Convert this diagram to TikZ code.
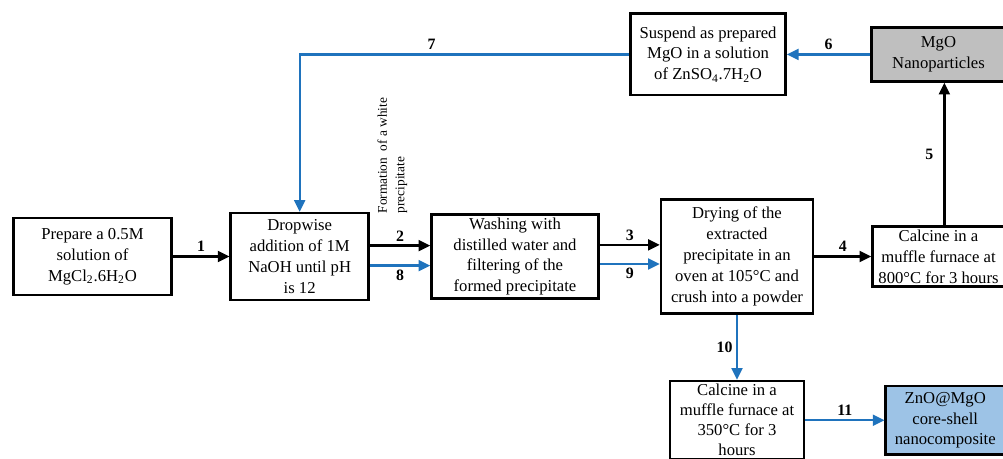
\documentclass[tikz,border=0pt]{standalone}
\usepackage{fontspec}
\setmainfont{Liberation Serif}
\usetikzlibrary{positioning, arrows.meta}
\definecolor{flowblue}{HTML}{1F73BD}
\definecolor{mgofill}{HTML}{BFBFBF}
\definecolor{znofill}{HTML}{9DC3E6}

\begin{document}
\begin{tikzpicture}[
    >={Triangle[length=7pt,width=6.5pt]},
    node distance=35pt,
    box/.style={draw, line width=1.5pt, inner xsep=1pt, inner ysep=1pt, align=center,
                font=\fontsize{10}{12.5}\selectfont},
    mgo/.style={box, fill=mgofill},
    zno/.style={box, fill=znofill},
    num/.style={font=\fontsize{9.5}{11}\selectfont\bfseries, text=black, inner sep=2pt},
    note/.style={font=\fontsize{8}{10.5}\selectfont, align=left, rotate=90, inner sep=0pt},
    flow/.style={->, line width=1.4pt},
    blueflow/.style={flow, flowblue},
]
\useasboundingbox (-55.5pt,-121.5pt) rectangle (546.3pt,153.9pt);

\node[box, minimum width=95pt, minimum height=46pt] (prep) {Prepare a 0.5M\\ solution of\\ MgCl\textsubscript{2}.6H\textsubscript{2}O};
\node[box, minimum width=82.8pt, minimum height=52pt, right=33.9pt of prep] (naoh) {Dropwise\\ addition of 1M\\ NaOH until pH\\ is 12};
\node[box, minimum width=100.2pt, minimum height=50.5pt, right=36.2pt of naoh] (wash) {Washing with\\ distilled water and\\ filtering of the\\ formed precipitate};
\node[box, minimum width=91.2pt, minimum height=68.5pt, right=36pt of wash] (dry) {Drying of the\\ extracted\\ precipitate in an\\ oven at 105°C and\\ crush into a powder};
\node[box, minimum width=79.2pt, minimum height=36pt, right=34.2pt of dry] (calc8) {Calcine in a\\ muffle furnace at\\ 800°C for 3 hours};

\node[mgo, minimum width=80.5pt, minimum height=32.5pt, above=85.5pt of calc8] (mgo) {MgO\\ Nanoparticles};
\node[box, minimum width=93pt, minimum height=49pt, left=50pt of mgo] (susp) {Suspend as prepared\\ MgO in a solution\\ of ZnSO\textsubscript{4}.7H\textsubscript{2}O};

\node[box, minimum width=80.4pt, minimum height=47pt, below=39pt of dry, font=\fontsize{10}{12}\selectfont] (calc3) {Calcine in a\\ muffle furnace at\\ 350°C for 3\\ hours};
\node[zno, minimum width=71.5pt, minimum height=41pt, right=47.5pt of calc3] (zno) {ZnO@MgO\\ core-shell\\ nanocomposite};

\node[note, anchor=west] (white) at ([xshift=13.5pt,yshift=-1pt]naoh.north east) {Formation\ \ of a white\\ precipitate};

% MgO route
\draw[flow] (prep) -- node[num, above] {1} (naoh);
\draw[flow] ([yshift=6.5pt]naoh.east) -- node[num, above] {2} ([yshift=6.5pt]wash.west);
\draw[flow] ([yshift=7pt]wash.east) -- node[num, above] {3} ([yshift=7pt]dry.west);
\draw[flow] (dry) -- node[num, above] {4} (calc8);
\draw[flow] ([xshift=3.5pt]calc8.north) -- node[num, left=4pt] {5} ([xshift=3.5pt]calc8.north |- mgo.south);

% ZnO@MgO route
\draw[blueflow] (mgo) -- node[num, above] {6} (susp);
\draw[blueflow] (susp.west) -| node[num, above, pos=0.3] {7} (naoh.north);
\draw[blueflow] ([yshift=-5.5pt]naoh.east) -- node[num, below] {8} ([yshift=-5.5pt]wash.west);
\draw[blueflow] ([yshift=-4.5pt]wash.east) -- node[num, below] {9} ([yshift=-4.5pt]dry.west);
\draw[blueflow] (dry) -- node[num, left] {10} (calc3);
\draw[blueflow] (calc3) -- node[num, above] {11} (zno);

\end{tikzpicture}
\end{document}
